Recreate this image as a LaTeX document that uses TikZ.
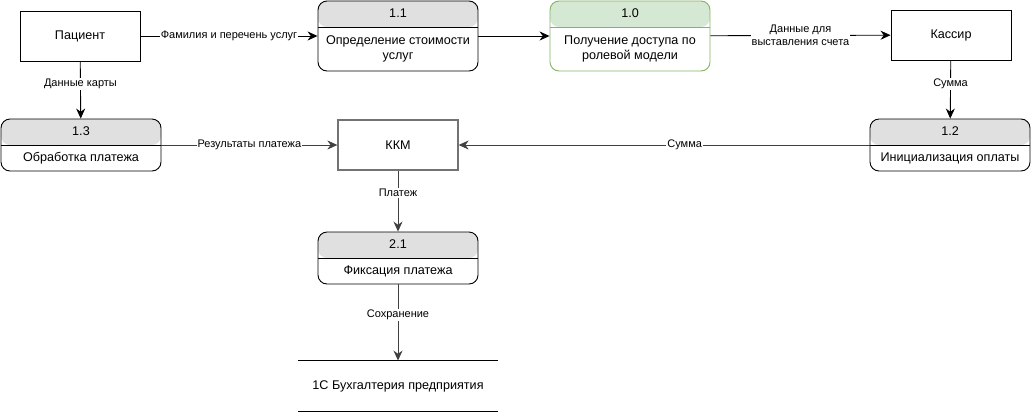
\documentclass[tikz,border=0pt]{standalone}
\usepackage{fontspec}
\setmainfont{Liberation Sans}
\usetikzlibrary{arrows.meta,calc}

\definecolor{hdrgray}{HTML}{E0E0E0}
\definecolor{hdrgreen}{HTML}{D5E8D4}
\definecolor{linegreen}{HTML}{82B366}

% process box: header with number, body with text
\newcommand{\procbox}[7][]{%
  \node[proc, minimum height=#5, #1] (#2) at (#3,#4) {};
  \node[numtext] at ([yshift=-13pt]#2.north) {#6};
  \node[proctext] at ($(#2.south)!0.5!([yshift=-26pt]#2.north)$) {#7};
}

\begin{document}
\begin{tikzpicture}[x=1pt, y=-1pt, line width=0.9pt,
    ent/.style={draw, minimum width=120pt, minimum height=50pt, font=\fontsize{12.6}{15}\selectfont},
    hdr/.style={fill=hdrgray},
    hdrline/.style={draw=black},
    proc/.style={draw, fill=white, rounded corners=9pt, minimum width=160pt,
      path picture={
        \fill[hdr] (path picture bounding box.north west) rectangle ([yshift=-26pt]path picture bounding box.north east);
        \draw[hdrline] ([yshift=-26pt]path picture bounding box.north west) -- ([yshift=-26pt]path picture bounding box.north east);
      }},
    greenproc/.style={draw=linegreen, hdr/.style={fill=hdrgreen}, hdrline/.style={draw=linegreen}},
    numtext/.style={font=\fontsize{12.6}{15}\selectfont, inner sep=0pt},
    proctext/.style={font=\fontsize{12.6}{15}\selectfont, align=center, inner sep=0pt},
    lbl/.style={fill=white, inner sep=1pt, font=\fontsize{11}{13}\selectfont, align=center},
    flow/.style={-{Stealth[length=10pt, width=9pt]}}]
  \useasboundingbox (0,0) rectangle (1032,413);

  % external entities
  \node[ent] (pat) at (80,36) {Пациент};
  \node[ent] (kas) at (951,35) {Кассир};
  \node[ent, draw=black!55, line width=1.3pt] (kkm) at (398,145) {ККМ};

  % processes
  \procbox{p11}{398}{36}{70pt}{1.1}{Определение стоимости\\услуг}
  \procbox[greenproc]{p10}{630}{36}{70pt}{1.0}{Получение доступа по\\ролевой модели}
  \procbox{p13}{81}{145}{52pt}{1.3}{Обработка платежа}
  \procbox{p12}{950}{145}{52pt}{1.2}{Инициализация оплаты}
  \procbox{p21}{398}{258}{52pt}{2.1}{Фиксация платежа}

  % data store
  \node[minimum width=200pt, minimum height=50pt, font=\fontsize{12.6}{15}\selectfont] (store) at (398,386) {1С Бухгалтерия предприятия};
  \draw[line width=1.6pt] (store.north west) -- (store.north east);
  \draw[line width=1.6pt] (store.south west) -- (store.south east);

  % flows
  \draw[flow] (pat) -- node[lbl] {Фамилия и перечень услуг} (p11);
  \draw[flow] (p11) -- (p10);
  \draw[flow] (p10) -- node[lbl] {Данные для\\выставления счета} (kas);
  \draw[flow] (pat) -- node[lbl, pos=0.4] {Данные карты} (p13);
  \draw[flow] (kas) -- node[lbl, pos=0.4] {Сумма} (p12);
  \draw[flow, draw=black!75] (p13) -- node[lbl] {Результаты платежа} (kkm);
  \draw[flow, draw=black!75] (p12) -- node[lbl, pos=0.45] {Сумма} (kkm);
  \draw[flow, draw=black!75] (kkm) -- node[lbl, pos=0.37] {Платеж} (p21);
  \draw[flow, draw=black!75] (p21) -- node[lbl, pos=0.4] {Сохранение} (store.north);
\end{tikzpicture}
\end{document}
